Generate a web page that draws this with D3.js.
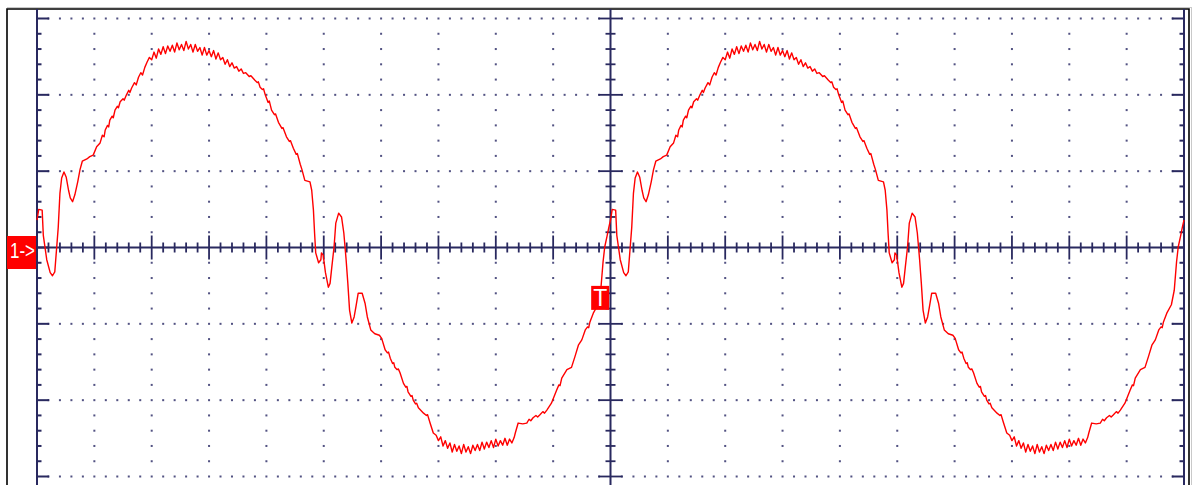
<!DOCTYPE html>
<html>
<head>
<meta charset="utf-8">
<script src="https://cdn.jsdelivr.net/npm/d3@7"></script>
<style>
  html, body { margin: 0; padding: 0; background: #fff; overflow: hidden; }
  svg { display: block; }
</style>
</head>
<body>
<svg id="scope" width="1194" height="485"></svg>
<script>
// Channel 1, one captured mains cycle, in screen divisions: [time, level].
// The cycle is split into its parts; the screen shows it twice.
const leadingEdge = [
  [0.00, 0.36], [0.03, 0.50], [0.09, 0.49], [0.11, 0.16], [0.17, -0.16],
  [0.23, -0.33], [0.27, -0.37], [0.31, -0.32], [0.34, -0.03], [0.37, 0.26],
  [0.40, 0.71], [0.43, 0.91], [0.47, 0.99], [0.51, 0.92], [0.55, 0.75],
  [0.58, 0.65], [0.62, 0.60], [0.66, 0.69], [0.71, 0.86], [0.75, 1.02],
  [0.79, 1.13], [0.87, 1.16], [0.92, 1.19], [0.98, 1.21], [1.04, 1.32],
  [1.10, 1.37], [1.14, 1.47], [1.17, 1.45], [1.19, 1.54], [1.23, 1.60],
  [1.25, 1.58], [1.27, 1.67], [1.31, 1.72], [1.33, 1.70], [1.36, 1.80],
  [1.40, 1.85], [1.42, 1.83], [1.45, 1.91], [1.50, 1.95], [1.52, 1.93],
  [1.56, 2.00], [1.60, 2.06], [1.62, 2.03], [1.65, 2.09], [1.70, 2.16],
  [1.73, 2.13], [1.77, 2.23], [1.81, 2.29], [1.84, 2.26], [1.88, 2.36]
];
const positiveCrest = [
  [1.92, 2.43], [1.96, 2.49], [2.00, 2.46], [2.04, 2.56], [2.08, 2.48],
  [2.12, 2.60], [2.16, 2.53], [2.20, 2.63], [2.24, 2.54], [2.28, 2.64],
  [2.32, 2.57], [2.36, 2.65], [2.40, 2.56], [2.44, 2.68], [2.48, 2.59],
  [2.52, 2.66], [2.56, 2.58], [2.60, 2.70], [2.64, 2.60], [2.68, 2.66],
  [2.72, 2.56], [2.76, 2.66], [2.80, 2.57], [2.84, 2.62], [2.88, 2.52],
  [2.92, 2.62], [2.96, 2.52], [3.00, 2.58], [3.04, 2.50], [3.08, 2.58],
  [3.12, 2.47], [3.16, 2.55], [3.20, 2.46], [3.24, 2.49], [3.28, 2.40],
  [3.32, 2.46], [3.36, 2.37], [3.40, 2.42], [3.44, 2.35], [3.48, 2.37],
  [3.52, 2.31], [3.56, 2.34], [3.60, 2.28], [3.64, 2.29], [3.70, 2.24],
  [3.73, 2.25]
];
const fallingEdge = [
  [3.80, 2.19], [3.84, 2.16], [3.86, 2.17], [3.89, 2.10], [3.93, 2.07],
  [3.95, 2.08], [3.98, 2.00], [4.03, 1.90], [4.05, 1.92], [4.09, 1.80],
  [4.14, 1.74], [4.16, 1.75], [4.21, 1.64], [4.27, 1.56], [4.29, 1.57],
  [4.35, 1.45], [4.40, 1.39], [4.42, 1.40], [4.47, 1.30], [4.52, 1.22],
  [4.54, 1.23], [4.59, 1.09], [4.62, 1.02], [4.67, 0.88],
  [4.76, 0.86], [4.79, 0.75], [4.82, 0.49], [4.84, 0.19], [4.86, -0.07],
  [4.91, -0.20], [4.95, -0.16], [4.96, -0.07], [4.99, -0.10], [5.03, -0.33],
  [5.08, -0.52], [5.11, -0.47], [5.14, -0.26], [5.18, 0.01], [5.21, 0.32],
  [5.26, 0.45], [5.31, 0.40], [5.35, 0.19], [5.39, -0.16], [5.42, -0.47],
  [5.45, -0.82], [5.49, -0.99], [5.53, -0.91], [5.56, -0.78], [5.60, -0.60],
  [5.67, -0.60], [5.72, -0.73], [5.76, -0.91], [5.82, -1.08], [5.89, -1.13],
  [5.97, -1.15], [6.01, -1.19], [6.07, -1.34], [6.11, -1.38], [6.13, -1.37],
  [6.16, -1.45], [6.20, -1.52], [6.22, -1.51], [6.24, -1.57], [6.28, -1.60],
  [6.30, -1.59], [6.33, -1.64], [6.39, -1.78], [6.43, -1.83], [6.45, -1.82],
  [6.47, -1.89], [6.52, -1.95], [6.54, -1.94], [6.56, -2.00], [6.60, -2.05],
  [6.62, -2.04], [6.65, -2.10], [6.74, -2.17], [6.79, -2.20], [6.81, -2.19],
  [6.85, -2.29], [6.91, -2.43]
];
const negativeCrest = [
  [6.96, -2.46], [7.00, -2.53], [7.04, -2.48], [7.08, -2.60], [7.12, -2.53],
  [7.16, -2.63], [7.20, -2.56], [7.24, -2.68], [7.28, -2.58], [7.32, -2.67],
  [7.36, -2.60], [7.40, -2.70], [7.44, -2.58], [7.48, -2.68], [7.52, -2.61],
  [7.56, -2.70], [7.60, -2.59], [7.64, -2.66], [7.68, -2.58], [7.72, -2.66],
  [7.76, -2.55], [7.80, -2.64], [7.84, -2.55], [7.88, -2.62], [7.92, -2.53],
  [7.96, -2.62], [8.00, -2.51], [8.04, -2.60], [8.08, -2.53], [8.12, -2.59],
  [8.16, -2.50], [8.20, -2.59], [8.24, -2.51], [8.28, -2.56], [8.32, -2.49]
];
const risingEdge = [
  [8.34, -2.43], [8.39, -2.30], [8.47, -2.31], [8.54, -2.30], [8.58, -2.25],
  [8.61, -2.27], [8.65, -2.23], [8.70, -2.20], [8.73, -2.22], [8.77, -2.19],
  [8.82, -2.15], [8.85, -2.17], [8.89, -2.13], [8.97, -2.04], [9.06, -1.87],
  [9.10, -1.80], [9.12, -1.81], [9.15, -1.71], [9.24, -1.60], [9.32, -1.57],
  [9.38, -1.43], [9.44, -1.28], [9.50, -1.21], [9.56, -1.08], [9.60, -1.04],
  [9.62, -1.05], [9.64, -0.98], [9.70, -0.86], [9.78, -0.75], [9.83, -0.56],
  [9.87, -0.19], [9.90, 0.01], [9.94, 0.15], [9.97, 0.26]
];

const cycleLength = 10;      // divisions per cycle
const cyclesShown = 2;
const hDivisions = 20;
const vDivisions = 6;
const subdivisions = 5;
const channelLabel = "1->";
const triggerLabel = "T";
const trigger = { time: 9.82, level: -0.66 };

// ---- layout ----
const W = 1194, H = 485;
const plot = { left: 37, right: 1184, top: 18.5, bottom: 476.5 };
const frame = { left: 7, top: 9, right: 1189 };
const ink = "#29295f";
const dotInk = "#34346c";
const traceRed = "#ff0000";

const svg = d3.select("#scope");
const x = d3.scaleLinear().domain([0, hDivisions]).range([plot.left, plot.right]);
const y = d3.scaleLinear().domain([-vDivisions / 2, vDivisions / 2]).range([plot.bottom, plot.top]);

// window border
const border = svg.append("g");
border.append("line").attr("x1", frame.left).attr("x2", frame.right + 3)
  .attr("y1", frame.top - 1.5).attr("y2", frame.top - 1.5)
  .attr("stroke", "#c9c9c9").attr("stroke-width", 1);
border.append("line").attr("x1", frame.right + 2.5).attr("x2", frame.right + 2.5)
  .attr("y1", frame.top - 1.5).attr("y2", H)
  .attr("stroke", "#c9c9c9").attr("stroke-width", 1);
border.append("path")
  .attr("d", `M${frame.left},${H} V${frame.top} H${frame.right} V${H}`)
  .attr("fill", "none").attr("stroke", "#000").attr("stroke-width", 1.6);

// ---- graticule dots ----
const step = 1 / subdivisions;
const dots = [];
d3.range(-vDivisions / 2, vDivisions / 2 + 1).forEach(r => {
  if (r === 0) return;
  d3.range(1, hDivisions * subdivisions).forEach(i => {
    if (i % (cycleLength * subdivisions) === 0) return;
    dots.push([i * step, r]);
  });
});
d3.range(1, hDivisions).forEach(c => {
  if (c === hDivisions / 2) return;
  d3.range(-vDivisions / 2 * subdivisions + 1, vDivisions / 2 * subdivisions).forEach(j => {
    if (j % subdivisions === 0) return;
    dots.push([c, j * step]);
  });
});
svg.append("g").selectAll("rect").data(dots).join("rect")
  .attr("x", d => x(d[0]) - 1).attr("y", d => y(d[1]) - 1)
  .attr("width", 2).attr("height", 2)
  .attr("fill", dotInk).attr("opacity", 0.85);

// ---- axes ----
const axes = svg.append("g").attr("stroke", ink);
// edge and centre verticals
[0, hDivisions / 2, hDivisions].forEach(v => {
  axes.append("line").attr("x1", x(v)).attr("x2", x(v))
    .attr("y1", frame.top).attr("y2", H).attr("stroke-width", 2);
});
// centre horizontal
axes.append("line").attr("x1", x(0)).attr("x2", x(hDivisions))
  .attr("y1", y(0)).attr("y2", y(0)).attr("stroke-width", 2);

const vTicks = d3.range(-vDivisions / 2 * subdivisions, vDivisions / 2 * subdivisions + 1)
  .map(j => ({ v: j * step, major: j % subdivisions === 0 }));
const hTicks = d3.range(0, hDivisions * subdivisions + 1)
  .map(i => ({ v: i * step, major: i % subdivisions === 0 }));

// left edge ticks point inward
axes.append("g").selectAll("line").data(vTicks).join("line")
  .attr("x1", x(0)).attr("x2", d => x(0) + (d.major ? 12 : 4.5))
  .attr("y1", d => y(d.v)).attr("y2", d => y(d.v)).attr("stroke-width", 2);
// right edge ticks point inward
axes.append("g").selectAll("line").data(vTicks).join("line")
  .attr("x1", x(hDivisions)).attr("x2", d => x(hDivisions) - (d.major ? 12 : 4.5))
  .attr("y1", d => y(d.v)).attr("y2", d => y(d.v)).attr("stroke-width", 2);
// centre vertical ticks cross the line
axes.append("g").selectAll("line").data(vTicks).join("line")
  .attr("x1", d => x(hDivisions / 2) - (d.major ? 12 : 5))
  .attr("x2", d => x(hDivisions / 2) + (d.major ? 12 : 5))
  .attr("y1", d => y(d.v)).attr("y2", d => y(d.v)).attr("stroke-width", 1.8);
// centre horizontal ticks cross the line
axes.append("g").selectAll("line").data(hTicks.filter(d => d.v > 0 && d.v < hDivisions)).join("line")
  .attr("x1", d => x(d.v)).attr("x2", d => x(d.v))
  .attr("y1", d => y(0) - (d.major ? 12 : 5))
  .attr("y2", d => y(0) + (d.major ? 12 : 5)).attr("stroke-width", 1.8);

// ---- trace ----
const cycle = [].concat(leadingEdge, positiveCrest, fallingEdge, negativeCrest, risingEdge);
const trace = [];
d3.range(cyclesShown).forEach(k => cycle.forEach(([t, v]) => trace.push([t + k * cycleLength, v])));
trace.push([cyclesShown * cycleLength, cycle[0][1]]);

svg.append("path")
  .datum(trace)
  .attr("fill", "none")
  .attr("stroke", traceRed)
  .attr("stroke-width", 1.4)
  .attr("stroke-linejoin", "round")
  .attr("d", d3.line().x(d => x(d[0])).y(d => y(d[1])));

// ---- markers ----
const ch = svg.append("g");
ch.append("rect")
  .attr("x", frame.left).attr("y", y(0) - 11.5)
  .attr("width", x(0) - 1 - frame.left).attr("height", 33)
  .attr("fill", traceRed);
ch.append("text")
  .attr("x", (frame.left + x(0)) / 2 + 0.5).attr("y", y(0) + 10.5)
  .attr("text-anchor", "middle")
  .attr("font-family", "'Liberation Sans', Arial, sans-serif")
  .attr("font-size", 22).attr("fill", "#fff")
  .attr("textLength", 25).attr("lengthAdjust", "spacingAndGlyphs")
  .text(channelLabel);

const tg = svg.append("g");
tg.append("rect")
  .attr("x", x(trigger.time) - 9).attr("y", y(trigger.level) - 12)
  .attr("width", 18).attr("height", 24)
  .attr("fill", traceRed);
tg.append("text")
  .attr("x", x(trigger.time)).attr("y", y(trigger.level) + 8.5)
  .attr("text-anchor", "middle")
  .attr("font-family", "'Liberation Sans', Arial, sans-serif")
  .attr("font-size", 23).attr("fill", "#fff")
  .text(triggerLabel);
</script>
</body>
</html>
